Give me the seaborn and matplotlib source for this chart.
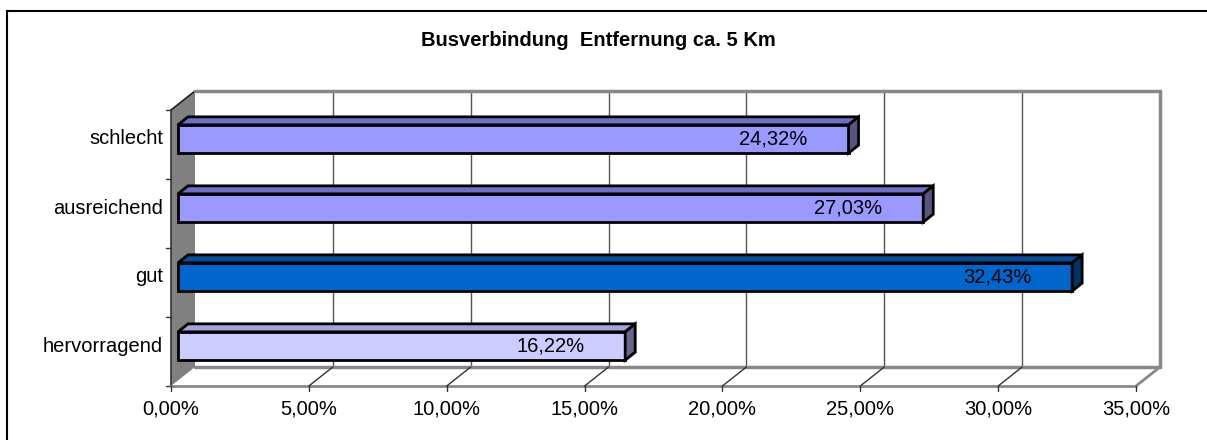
import matplotlib
matplotlib.use('Agg')
import matplotlib.pyplot as plt
import matplotlib.transforms as mtransforms
from matplotlib.patches import Polygon, Rectangle
import seaborn as sns

# daten
kategorien = ['schlecht', 'ausreichend', 'gut', 'hervorragend']
werte = [24.32, 27.03, 32.43, 16.22]
ticks = [0, 5, 10, 15, 20, 25, 30, 35]
tick_labels = ['0,00%', '5,00%', '10,00%', '15,00%', '20,00%', '25,00%', '30,00%', '35,00%']

farbe_vorne = ['#9999FF', '#9999FF', '#0066CC', '#CCCCFF']
farbe_oben = ['#6E6ECC', '#6E6ECC', '#0A4C99', '#A3A3D6']
farbe_seite = ['#55557F', '#55557F', '#003366', '#66668A']

sns.set_theme(style='white')
plt.rcParams['font.family'] = ['Liberation Sans', 'DejaVu Sans']
plt.rcParams['text.color'] = 'black'

W, H = 1207, 440
fig = plt.figure(figsize=(W / 100, H / 100), dpi=100)

# rahmen um die grafik
fig.patches.append(Rectangle((7 / W, -0.1), 1.2, 1 - 11 / H + 0.1, transform=fig.transFigure,
                             fill=False, edgecolor='black', linewidth=1.5))

fig.text(598 / W, 1 - 41 / H, 'Busverbindung  Entfernung ca. 5 Km', ha='center', va='center',
         fontsize=14.5, fontweight='bold', color='black')

# rueckwand = achse
links, rechts, oben, unten = 195, 1160, 91, 367
ax = fig.add_axes([links / W, 1 - unten / H, (rechts - links) / W, (unten - oben) / H])
ax.set_xlim(0, 35)
ax.set_ylim(3.5, -0.5)

px_x = (rechts - links) / 35.0   # pixel pro prozent
px_y = (unten - oben) / 4.0      # pixel pro kategorie

# vorderkante (boden / seitenwand) in daten-einheiten
fx = 24 / px_x
fy = 19 / px_y

# seitenwand links
ax.add_patch(Polygon([(0, -0.5), (0, 3.5), (-fx, 3.5 + fy), (-fx, -0.5 + fy)], closed=True,
                     facecolor='#808080', edgecolor='none', clip_on=False, zorder=0))
ax.plot([0, -fx], [-0.5, -0.5 + fy], color='#222222', lw=1.2, clip_on=False)
ax.plot([-fx, -fx], [-0.5 + fy, 3.5 + fy], color='#333333', lw=1.2, clip_on=False)
for k in range(5):
    ax.plot([-fx - 5 / px_x, -fx], [k - 0.5 + fy, k - 0.5 + fy], color='#333333', lw=1, clip_on=False)

# gitterlinien und rahmen der rueckwand
for t in ticks[1:-1]:
    ax.axvline(t, color='#555555', lw=1, zorder=0.5)
ax.plot([0, 35], [-0.5, -0.5], color='#888888', lw=2.5, clip_on=False)
ax.plot([35, 35], [-0.5, 3.5], color='#888888', lw=2.5, clip_on=False)
ax.plot([0, 35], [3.5, 3.5], color='#888888', lw=2.5, clip_on=False)

# boden
ax.plot([-fx, 35 - fx], [3.5 + fy, 3.5 + fy], color='#888888', lw=2, clip_on=False)
ax.plot([35 - fx, 35], [3.5 + fy, 3.5], color='#888888', lw=2, clip_on=False)
for t in ticks[1:-1]:
    ax.plot([t - fx, t], [3.5 + fy, 3.5], color='#333333', lw=1, clip_on=False)
for t, lab in zip(ticks, tick_labels):
    ax.plot([t - fx, t - fx], [3.5 + fy, 3.5 + fy + 5 / px_y], color='#333333', lw=1, clip_on=False)
    ax.annotate(lab, xy=(t - fx, 3.5 + fy), xytext=(0, -23), textcoords='offset pixels',
                ha='center', va='center', fontsize=14.5, color='black', annotation_clip=False)

for s in ax.spines.values():
    s.set_visible(False)
ax.set_facecolor('white')

# balken
sns.barplot(x=werte, y=kategorien, hue=kategorien, palette=farbe_vorne, orient='h',
            width=0.41, saturation=1, legend=False, edgecolor='black', linewidth=2,
            ax=ax, zorder=3)
ax.set_xlim(0, 35)
ax.set_ylim(3.5, -0.5)
ax.set_xlabel('')
ax.set_ylabel('')
ax.set_xticks([])
ax.set_yticks([])

# 3d-effekt: balkenebene liegt zwischen vorderkante und rueckwand
verschiebung = ax.transData + mtransforms.ScaledTranslation(-17 / 100, -13.5 / 100, fig.dpi_scale_trans)
tx = 10 / px_x
ty = 8 / px_y
balken = [p for p in ax.patches if isinstance(p, Rectangle)]
for i, bar in enumerate(balken):
    bar.set_transform(verschiebung)
    bar.set_clip_on(False)
    x0, x1 = bar.get_x(), bar.get_x() + bar.get_width()
    y0, y1 = bar.get_y(), bar.get_y() + bar.get_height()
    yo = min(y0, y1)
    yu = max(y0, y1)
    ax.add_patch(Polygon([(x0, yo), (x1, yo), (x1 + tx, yo - ty), (x0 + tx, yo - ty)], closed=True,
                         facecolor=farbe_oben[i], edgecolor='black', linewidth=2,
                         transform=verschiebung, clip_on=False, zorder=3))
    ax.add_patch(Polygon([(x1, yo), (x1, yu), (x1 + tx, yu - ty), (x1 + tx, yo - ty)], closed=True,
                         facecolor=farbe_seite[i], edgecolor='black', linewidth=2,
                         transform=verschiebung, clip_on=False, zorder=3))
    ax.annotate(f'{werte[i]:.2f}%'.replace('.', ','), xy=(x1, (y0 + y1) / 2), xycoords=verschiebung,
                xytext=(-41, 0), textcoords='offset pixels', ha='right', va='center',
                fontsize=14.5, color='black', annotation_clip=False, zorder=4)
    ax.annotate(kategorien[i], xy=(0, (y0 + y1) / 2), xycoords=verschiebung,
                xytext=(-15, 0), textcoords='offset pixels', ha='right', va='center',
                fontsize=14.5, color='black', annotation_clip=False)

fig.savefig('out.png', dpi=100)
